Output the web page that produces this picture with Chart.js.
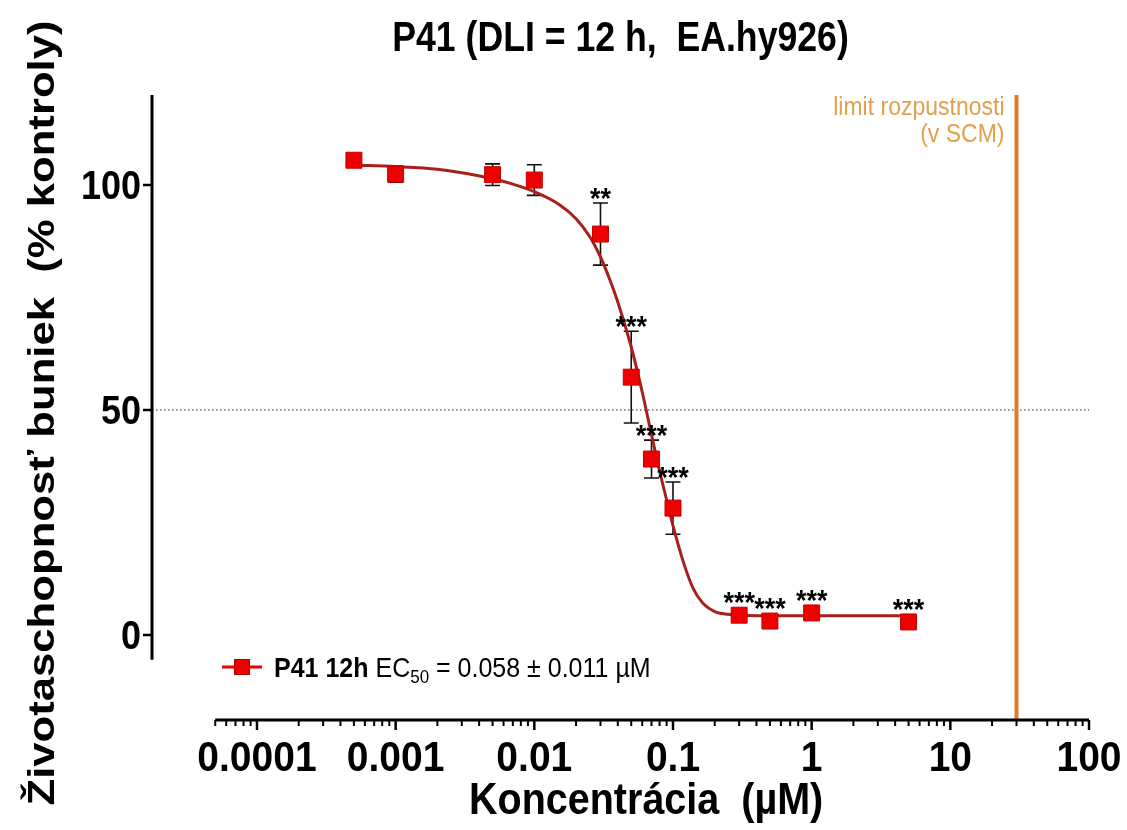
<!DOCTYPE html>
<html>
<head>
<meta charset="utf-8">
<script src="https://cdn.jsdelivr.net/npm/chart.js@4.4.1/dist/chart.umd.min.js"></script>
<style>
  html, body { margin: 0; padding: 0; background: #ffffff; }
  #wrap { width: 1127px; height: 830px; }
</style>
</head>
<body>
<div id="wrap"><canvas id="chart" width="1127" height="830"></canvas></div>
<script>
// Measured viability (mean ± SD) per concentration
const concentrations = [0.0005, 0.001, 0.005, 0.01, 0.03, 0.05, 0.07, 0.1, 0.3, 0.5, 1, 5];
const viability      = [105.5, 102.4, 102.3, 101.1, 89.1, 57.3, 39.1, 28.2, 4.4, 3.1, 4.9, 2.9];
const viabilityErr   = [0.8, 1.8, 2.4, 3.4, 6.9, 10.2, 4.2, 5.8, 0.6, 0.5, 0.6, 0.5];
const significance   = ['', '', '', '', '**', '***', '***', '***', '***', '***', '***', '***'];

// Fitted dose-response curve
const fitConc      = [0.0005, 0.001, 0.002, 0.005, 0.007, 0.01, 0.015, 0.02, 0.025, 0.03, 0.035, 0.04, 0.05, 0.06, 0.07, 0.08, 0.09, 0.1, 0.12, 0.14, 0.165, 0.2, 0.25, 0.3, 0.5, 1, 2, 5];
const fitViability = [104.4, 104.1, 103.5, 101.4, 100.2, 98.5, 95.7, 92.5, 88.6, 84.0, 79.0, 74.0, 64.0, 54.0, 44.5, 36.5, 30.0, 24.3, 15.8, 10.3, 7.0, 5.2, 4.6, 4.4, 4.3, 4.3, 4.3, 4.3];

// Axis ticks
const xMajorTicks  = [0.0001, 0.001, 0.01, 0.1, 1, 10, 100];
const xTickLabels  = ['0.0001', '0.001', '0.01', '0.1', '1', '10', '100'];
const yTicks       = [0, 50, 100];
const yTickLabels  = ['0', '50', '100'];

// Reference lines
const halfLine = 50;
const solubilityLimit = 30;

const titleText  = 'P41 (DLI = 12 h,  EA.hy926)';
const xTitleText = 'Koncentrácia  (µM)';
const yTitleText = 'Životaschopnosť buniek  (% kontroly)';
const seriesName = 'P41 12h';
const limitLines = ['limit rozpustnosti', '(v SCM)'];

const FONT = '"Liberation Sans", Arial, Helvetica, sans-serif';
const RED = '#ec0000';
const CURVE = '#a8201c';
const ORANGE = '#e07b2c';

function drawText(ctx, s, x, y, font, align, color, sx, sy) {
  ctx.save();
  ctx.font = font;
  ctx.fillStyle = color || '#000';
  ctx.textAlign = align || 'left';
  ctx.textBaseline = 'alphabetic';
  ctx.translate(x, y);
  ctx.scale(sx || 1, sy || 1);
  ctx.fillText(s, 0, 0);
  ctx.restore();
}

const decor = {
  id: 'decor',
  beforeDatasetsDraw(chart) {
    const ctx = chart.ctx, xs = chart.scales.x, ys = chart.scales.y, a = chart.chartArea;
    ctx.save();
    // 50 % reference line
    const y50 = ys.getPixelForValue(halfLine);
    ctx.strokeStyle = '#222';
    ctx.lineWidth = 1;
    ctx.setLineDash([1.5, 2.5]);
    ctx.beginPath(); ctx.moveTo(a.left, y50); ctx.lineTo(a.right, y50); ctx.stroke();
    ctx.setLineDash([]);
    // solubility limit
    const xl = xs.getPixelForValue(solubilityLimit);
    ctx.strokeStyle = ORANGE;
    ctx.lineWidth = 4;
    ctx.beginPath(); ctx.moveTo(xl, a.top); ctx.lineTo(xl, a.bottom); ctx.stroke();
    // error bars
    ctx.strokeStyle = '#111';
    ctx.lineWidth = 1.6;
    concentrations.forEach((c, i) => {
      const px = xs.getPixelForValue(c);
      const top = ys.getPixelForValue(viability[i] + viabilityErr[i]);
      const bot = ys.getPixelForValue(viability[i] - viabilityErr[i]);
      ctx.beginPath();
      ctx.moveTo(px, top); ctx.lineTo(px, bot);
      ctx.moveTo(px - 7.5, top); ctx.lineTo(px + 7.5, top);
      ctx.moveTo(px - 7.5, bot); ctx.lineTo(px + 7.5, bot);
      ctx.stroke();
    });
    ctx.restore();
  },
  afterDraw(chart) {
    const ctx = chart.ctx, xs = chart.scales.x, ys = chart.scales.y, a = chart.chartArea;
    ctx.save();
    ctx.strokeStyle = '#000';
    ctx.lineCap = 'butt';

    // y axis line and ticks
    const yAxisMin = -5.5, yAxisMax = 120;
    ctx.lineWidth = 3;
    ctx.beginPath();
    ctx.moveTo(a.left, ys.getPixelForValue(yAxisMax));
    ctx.lineTo(a.left, ys.getPixelForValue(yAxisMin));
    ctx.stroke();
    yTicks.forEach((v, i) => {
      const py = ys.getPixelForValue(v);
      ctx.lineWidth = 2.5;
      ctx.beginPath(); ctx.moveTo(a.left - 9, py); ctx.lineTo(a.left, py); ctx.stroke();
      drawText(ctx, yTickLabels[i], a.left - 11, py + 14.5, 'bold 36px ' + FONT, 'right', '#000', 1, 1.12);
    });

    // x axis line, major and minor ticks
    const xAxisMin = 5e-5, xAxisMax = 100;
    ctx.lineWidth = 3;
    ctx.beginPath();
    ctx.moveTo(xs.getPixelForValue(xAxisMin), a.bottom);
    ctx.lineTo(xs.getPixelForValue(xAxisMax), a.bottom);
    ctx.stroke();
    for (let e = -5; e < 2; e++) {
      for (let m = 2; m <= 9; m++) {
        const v = m * Math.pow(10, e);
        if (v < xAxisMin - 1e-12) continue;
        const px = xs.getPixelForValue(v);
        ctx.lineWidth = 2;
        ctx.beginPath(); ctx.moveTo(px, a.bottom); ctx.lineTo(px, a.bottom + 6); ctx.stroke();
      }
    }
    xMajorTicks.forEach((v, i) => {
      const px = xs.getPixelForValue(v);
      ctx.lineWidth = 2.5;
      ctx.beginPath(); ctx.moveTo(px, a.bottom); ctx.lineTo(px, a.bottom + 10); ctx.stroke();
      drawText(ctx, xTickLabels[i], px, 771, 'bold 39px ' + FONT, 'center', '#000', 1, 1.1);
    });

    // axis titles
    const xMid = (xs.getPixelForValue(xAxisMin) + xs.getPixelForValue(xAxisMax)) / 2;
    drawText(ctx, xTitleText, xMid - 6, 814, 'bold 39.5px ' + FONT, 'center', '#000', 1, 1.14);
    ctx.save();
    ctx.translate(54, 413);
    ctx.rotate(-Math.PI / 2);
    ctx.scale(1.18, 1);
    ctx.font = 'bold 37px ' + FONT;
    ctx.fillStyle = '#000';
    ctx.textAlign = 'center';
    ctx.fillText(yTitleText, 0, 0);
    ctx.restore();

    // chart title
    drawText(ctx, titleText, (a.left + a.right) / 2, 51, 'bold 36px ' + FONT, 'center', '#000', 0.99, 1.16);

    // significance marks
    concentrations.forEach((c, i) => {
      if (!significance[i]) return;
      const px = xs.getPixelForValue(c);
      const top = Math.min(ys.getPixelForValue(viability[i] + viabilityErr[i]), ys.getPixelForValue(viability[i]) - 8);
      drawText(ctx, significance[i], px, top + 5, 'bold 27px ' + FONT, 'center', '#000', 1, 1.1);
    });

    // solubility label
    const xl = xs.getPixelForValue(solubilityLimit);
    drawText(ctx, limitLines[0], xl - 12, 115, '23px ' + FONT, 'right', '#e2a04e', 1, 1.1);
    drawText(ctx, limitLines[1], xl - 12, 142, '23px ' + FONT, 'right', '#e2a04e', 1, 1.1);

    // legend
    const ly = 667;
    ctx.strokeStyle = RED;
    ctx.lineWidth = 3;
    ctx.beginPath(); ctx.moveTo(222, ly); ctx.lineTo(262, ly); ctx.stroke();
    ctx.fillStyle = RED;
    ctx.fillRect(234.5, ly - 7.5, 15, 15);
    ctx.strokeStyle = '#b00000'; ctx.lineWidth = 1;
    ctx.strokeRect(234.5, ly - 7.5, 15, 15);
    let tx = 274;
    const lb = 677;
    ctx.font = 'bold 25px ' + FONT;
    drawText(ctx, seriesName, tx, lb, ctx.font, 'left', '#000', 1, 1.1);
    tx += ctx.measureText(seriesName + ' ').width;
    ctx.font = '25px ' + FONT;
    drawText(ctx, 'EC', tx, lb, ctx.font, 'left', '#000', 1, 1.1);
    tx += ctx.measureText('EC').width;
    ctx.font = '17px ' + FONT;
    drawText(ctx, '50', tx, lb + 6, ctx.font, 'left', '#000', 1, 1.1);
    tx += ctx.measureText('50').width;
    ctx.font = '25px ' + FONT;
    drawText(ctx, ' = 0.058 ± 0.011 µM', tx, lb, ctx.font, 'left', '#000', 1, 1.1);

    ctx.restore();
  }
};

new Chart(document.getElementById('chart'), {
  type: 'scatter',
  data: {
    datasets: [
      {
        label: seriesName,
        data: concentrations.map((c, i) => ({ x: c, y: viability[i] })),
        showLine: false,
        pointStyle: 'rect',
        pointRadius: 11.3,
        pointHoverRadius: 11.3,
        backgroundColor: RED,
        borderColor: '#c40000',
        borderWidth: 1,
        order: 0
      },
      {
        label: 'fit',
        data: fitConc.map((c, i) => ({ x: c, y: fitViability[i] })),
        showLine: true,
        pointRadius: 0,
        borderColor: CURVE,
        borderWidth: 3,
        cubicInterpolationMode: 'monotone',
        order: 1
      }
    ]
  },
  options: {
    responsive: false,
    animation: false,
    devicePixelRatio: 1,
    layout: { padding: { top: 95, right: 38, bottom: 0, left: 0 } },
    plugins: { legend: { display: false }, title: { display: false }, tooltip: { enabled: false } },
    scales: {
      x: {
        type: 'logarithmic',
        min: 1.75e-5,
        max: 100,
        grid: { display: false },
        border: { display: false },
        ticks: { display: false },
        afterFit(scale) { scale.height = 110; }
      },
      y: {
        type: 'linear',
        min: -18.89,
        max: 120,
        grid: { display: false },
        border: { display: false },
        ticks: { display: false },
        afterFit(scale) { scale.width = 152; }
      }
    }
  },
  plugins: [decor]
});
</script>
</body>
</html>
